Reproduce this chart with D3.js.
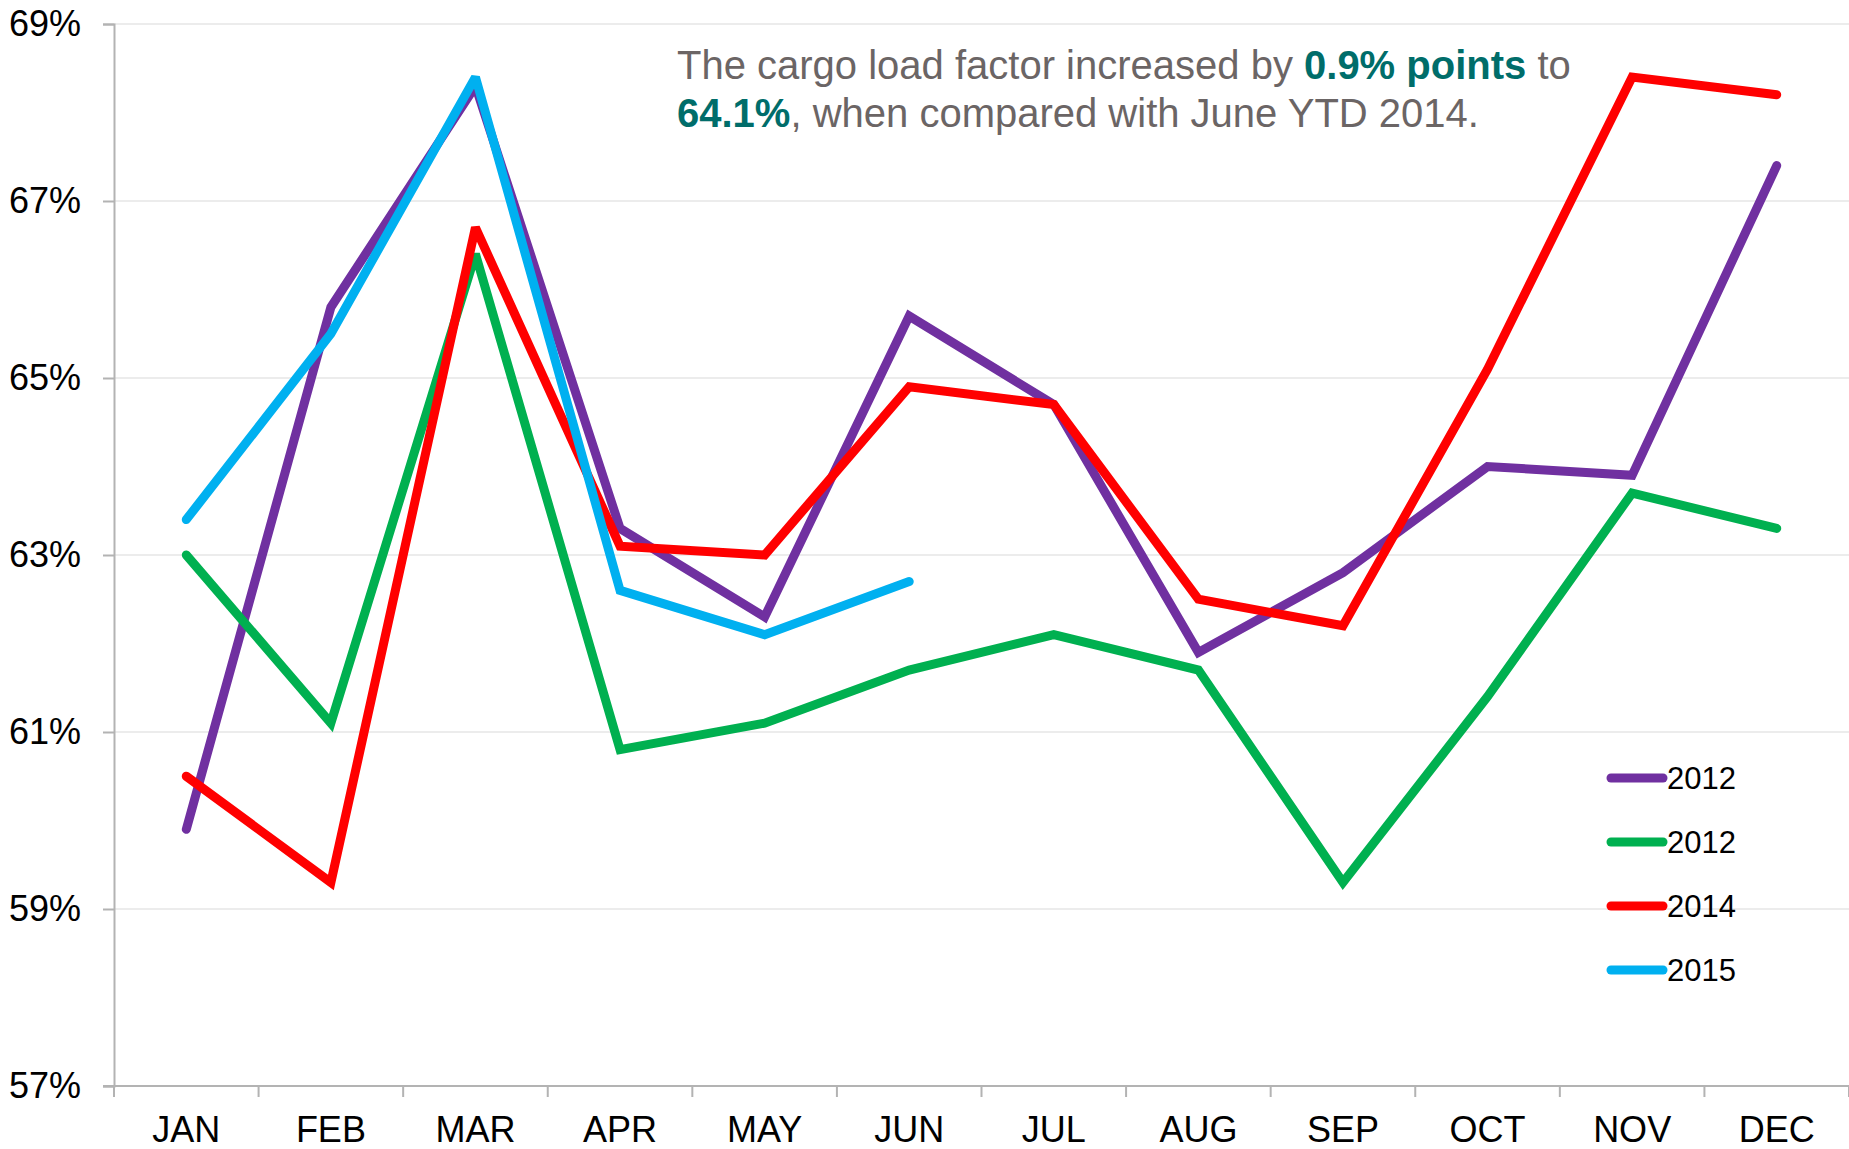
<!DOCTYPE html>
<html>
<head>
<meta charset="utf-8">
<script src="https://cdn.jsdelivr.net/npm/d3@7"></script>
<style>
  body { margin: 0; background: #fff; }
  svg { display: block; font-family: "Liberation Sans", Arial, sans-serif; }
</style>
</head>
<body>
<div id="chart"></div>
<script>
const months = ["JAN", "FEB", "MAR", "APR", "MAY", "JUN", "JUL", "AUG", "SEP", "OCT", "NOV", "DEC"];
const yTicks = [57, 59, 61, 63, 65, 67, 69];

const series2012 = [59.9, 65.8, 68.3, 63.3, 62.3, 65.7, 64.7, 61.9, 62.8, 64.0, 63.9, 67.4];
const series2013 = [63.0, 61.1, 66.4, 60.8, 61.1, 61.7, 62.1, 61.7, 59.3, 61.4, 63.7, 63.3];
const series2014 = [60.5, 59.3, 66.7, 63.1, 63.0, 64.9, 64.7, 62.5, 62.2, 65.1, 68.4, 68.2];
const series2015 = [63.4, 65.5, 68.4, 62.6, 62.1, 62.7];

// legend labels as printed on the chart (the green one says 2012 too)
const seriesNames = ["2012", "2012", "2014", "2015"];
const seriesColors = ["#7030a0", "#00b050", "#ff0000", "#00b0f0"];
const allSeries = [series2012, series2013, series2014, series2015];

const W = 1849, H = 1149;
const margin = { top: 24, right: 0, bottom: 63, left: 114 };

const svg = d3.select("#chart").append("svg")
    .attr("width", W)
    .attr("height", H);

const x = d3.scaleBand()
    .domain(months)
    .range([margin.left, W - margin.right])
    .padding(0);

const y = d3.scaleLinear()
    .domain([57, 69])
    .range([H - margin.bottom, margin.top]);

// gridlines
svg.append("g")
    .selectAll("line")
    .data(yTicks.filter(d => d > 57))
    .join("line")
    .attr("x1", margin.left)
    .attr("x2", W - margin.right)
    .attr("y1", d => y(d))
    .attr("y2", d => y(d))
    .attr("stroke", "#ececec")
    .attr("stroke-width", 2);

// y axis
const yAxis = svg.append("g")
    .attr("transform", `translate(${margin.left},0)`)
    .call(d3.axisLeft(y).tickValues(yTicks).tickSize(11).tickPadding(22).tickFormat(d => d + "%"));
yAxis.select(".domain").attr("stroke", "#b3b3b3").attr("stroke-width", 2);
yAxis.selectAll(".tick line").attr("stroke", "#b3b3b3").attr("stroke-width", 2);
yAxis.selectAll(".tick text")
    .attr("font-size", 36)
    .attr("font-family", "Liberation Sans, Arial, sans-serif")
    .attr("fill", "#000");

// x axis: labels centred in bands, tick marks on band edges
const xAxis = svg.append("g")
    .attr("transform", `translate(0,${H - margin.bottom})`)
    .call(d3.axisBottom(x).tickSize(0).tickPadding(30));
xAxis.select(".domain").remove();
xAxis.selectAll(".tick text")
    .attr("font-size", 36)
    .attr("font-family", "Liberation Sans, Arial, sans-serif")
    .attr("fill", "#000");

svg.append("line")
    .attr("x1", margin.left - 11)
    .attr("x2", W)
    .attr("y1", y(57))
    .attr("y2", y(57))
    .attr("stroke", "#b3b3b3")
    .attr("stroke-width", 2);

svg.append("g")
    .selectAll("line")
    .data(months.concat(["end"]))
    .join("line")
    .attr("x1", (d, i) => margin.left + i * x.step())
    .attr("x2", (d, i) => margin.left + i * x.step())
    .attr("y1", y(57))
    .attr("y2", y(57) + 11)
    .attr("stroke", "#b3b3b3")
    .attr("stroke-width", 2);

// lines
const line = d3.line()
    .x((d, i) => x(months[i]) + x.bandwidth() / 2)
    .y(d => y(d));

svg.append("g")
    .selectAll("path")
    .data(allSeries)
    .join("path")
    .attr("d", d => line(d))
    .attr("fill", "none")
    .attr("stroke", (d, i) => seriesColors[i])
    .attr("stroke-width", 9)
    .attr("stroke-linecap", "round")
    .attr("stroke-linejoin", "miter")
    .attr("stroke-miterlimit", 2.5);

// legend
const legend = svg.append("g")
    .attr("transform", "translate(1611,778)");
const item = legend.selectAll("g")
    .data(seriesNames)
    .join("g")
    .attr("transform", (d, i) => `translate(0,${i * 64})`);
item.append("line")
    .attr("x1", 0)
    .attr("x2", 52)
    .attr("stroke", (d, i) => seriesColors[i])
    .attr("stroke-width", 9)
    .attr("stroke-linecap", "round");
item.append("text")
    .attr("x", 56)
    .attr("dy", "0.36em")
    .attr("font-size", 31)
    .text(d => d);

// annotation
const note = svg.append("text")
    .attr("x", 677)
    .attr("y", 79)
    .attr("font-size", 40)
    .attr("fill", "#6b6565");
const l1 = note.append("tspan");
l1.append("tspan").text("The cargo load factor increased by ");
l1.append("tspan").attr("font-weight", "bold").attr("fill", "#006d6a").text("0.9% points");
l1.append("tspan").text(" to");
note.append("tspan").attr("x", 677).attr("y", 127).attr("font-weight", "bold").attr("fill", "#006d6a").text("64.1%");
note.append("tspan").text(", when compared with June YTD 2014.");
</script>
</body>
</html>
